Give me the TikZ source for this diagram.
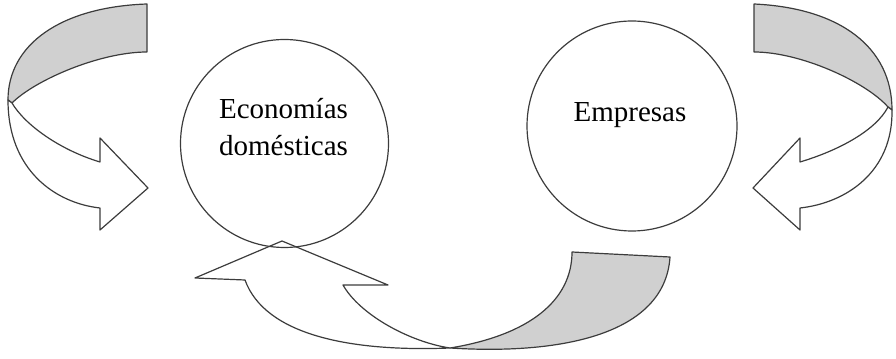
\documentclass[tikz,border=0pt]{standalone}
\usepackage{xcolor}
\usepackage{fontspec}
\setmainfont{Liberation Serif}
\usepackage{tikz}

\definecolor{lineGray}{RGB}{60,60,60}
\definecolor{bandGray}{RGB}{208,208,208}

\begin{document}
\begin{tikzpicture}[x=0.75pt,y=0.75pt,yscale=-1,xscale=1,
    outline/.style={draw=lineGray,line width=0.9pt,line join=round},
    front/.style={outline,fill=white},
    back/.style={outline,fill=bandGray},
    disc/.style={circle,draw=lineGray,line width=0.9pt,inner sep=0pt},
    label/.style={inner sep=0pt,align=center,font=\fontsize{21.75}{27.75}\selectfont}]
    \useasboundingbox (0,0) rectangle (896,359);

    % left turning arrow
    \draw [back] (147,4) .. controls (60,7) and (8,45) .. (8,100) -- (12,103) .. controls (35,80) and (100,52) .. (147,52) -- cycle ;
    \draw [front] (8,100) .. controls (8,170) and (55,203) .. (100,208) -- (100,230) -- (148,188) -- (100,138) -- (100,162) .. controls (60,150) and (25,125) .. (12,103) -- cycle ;

    % right turning arrow
    \draw [back] (754,4) .. controls (841,8) and (892,48) .. (892,110) -- (888,107) .. controls (866,82) and (801,52) .. (754,52) -- cycle ;
    \draw [front] (892,110) .. controls (893,172) and (846,203) .. (800,208) -- (800,230) -- (753,188) -- (800,138) -- (800,162) .. controls (840,150) and (876,130) .. (888,107) -- cycle ;

    % bottom arrow
    \draw [back] (572,252) -- (670,257) .. controls (665,335) and (560,355) .. (450,348) .. controls (530,335) and (572,300) .. (572,252) -- cycle ;
    \draw [front] (450,348) .. controls (350,352) and (265,335) .. (245,280) -- (195,278) -- (282,241) -- (388,285) -- (343,285) .. controls (360,315) and (410,342) .. (450,348) -- cycle ;

    % circles
    \node [disc,minimum size=156pt] (hogares) at (284.5,143.5) {};
    \node [disc,minimum size=157.5pt] (empresas) at (632,126) {};

    \node [label] (hogaresText) at (283.5,126.7) {Economías\\domésticas};
    \node [label,anchor=base] (empresasText) at (630,122) {Empresas};
\end{tikzpicture}
\end{document}
